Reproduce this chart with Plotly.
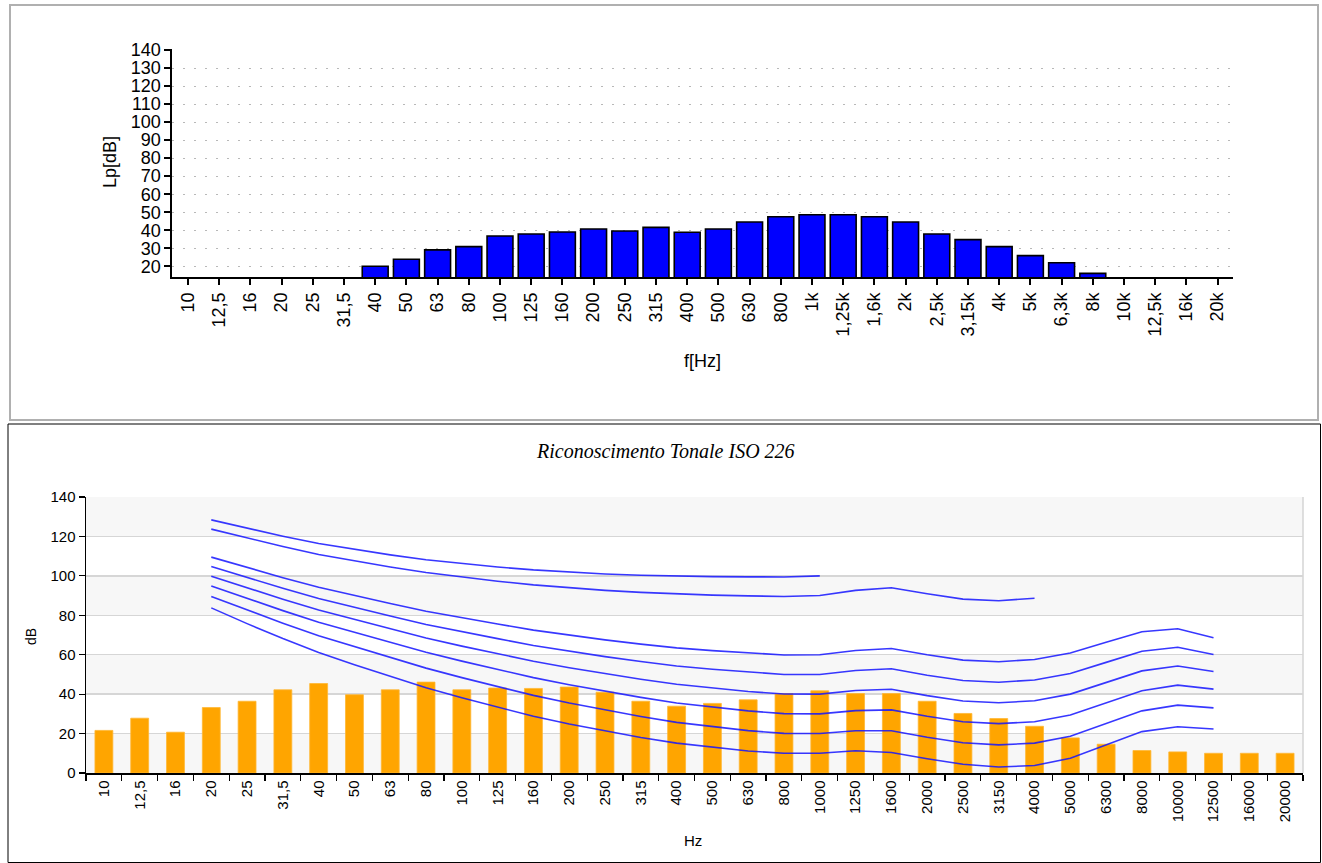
import plotly.graph_objects as go

# ---------------- data: top chart (third-octave spectrum) ----------------
top_labels = ["10", "12,5", "16", "20", "25", "31,5", "40", "50", "63", "80",
              "100", "125", "160", "200", "250", "315", "400", "500", "630", "800",
              "1k", "1,25k", "1,6k", "2k", "2,5k", "3,15k", "4k", "5k", "6,3k", "8k",
              "10k", "12,5k", "16k", "20k"]
top_levels = [None, None, None, None, None, None, 20.0, 23.9, 29.1, 30.9,
              36.8, 37.9, 39.0, 40.7, 39.6, 41.6, 38.9, 40.7, 44.6, 47.5,
              48.6, 48.6, 47.5, 44.6, 37.9, 34.8, 30.9, 25.9, 22.0, 16.1,
              None, None, None, None]
top_yticks = [20, 30, 40, 50, 60, 70, 80, 90, 100, 110, 120, 130, 140]

# ---------------- data: bottom chart (tonal recognition ISO 226) ----------------
low_labels = ["10", "12,5", "16", "20", "25", "31,5", "40", "50", "63", "80",
              "100", "125", "160", "200", "250", "315", "400", "500", "630", "800",
              "1000", "1250", "1600", "2000", "2500", "3150", "4000", "5000", "6300", "8000",
              "10000", "12500", "16000", "20000"]
low_levels = [21.6, 27.8, 20.7, 33.2, 36.4, 42.2, 45.4, 39.7, 42.2, 46.1,
              42.2, 43.1, 42.9, 43.6, 41.0, 36.4, 33.9, 35.3, 37.1, 40.3,
              41.7, 40.3, 40.3, 36.4, 30.2, 27.6, 23.7, 17.8, 14.6, 11.4,
              10.7, 10.0, 10.0, 10.0]
low_yticks = [0, 20, 40, 60, 80, 100, 120, 140]

contour_x = ["20", "25", "31,5", "40", "50", "63", "80", "100", "125", "160",
             "200", "250", "315", "400", "500", "630", "800", "1000", "1250", "1600",
             "2000", "2500", "3150", "4000", "5000", "6300", "8000", "10000", "12500"]
phon10 = [83.75, 75.76, 68.21, 61.14, 54.96, 49.01, 43.24, 38.13, 33.48, 28.77,
          24.84, 21.33, 18.05, 15.14, 12.98, 11.18, 9.99, 10.0, 11.26, 10.43,
          7.27, 4.45, 3.04, 3.80, 7.46, 14.35, 20.99, 23.43, 22.33]
phon20 = [89.58, 82.65, 75.98, 69.62, 64.02, 58.55, 53.19, 48.38, 43.94, 39.37,
          35.51, 31.99, 28.69, 25.67, 23.43, 21.48, 20.10, 20.0, 21.46, 21.40,
          18.15, 15.38, 14.26, 15.14, 18.64, 25.02, 31.52, 34.43, 33.04]
phon30 = [94.85, 88.52, 82.36, 76.45, 71.26, 66.20, 61.22, 56.76, 52.64, 48.38,
          44.78, 41.47, 38.36, 35.50, 33.37, 31.49, 30.11, 30.0, 31.65, 32.04,
          28.76, 26.02, 25.05, 26.02, 29.42, 35.48, 41.75, 44.57, 42.55]
phon40 = [99.85, 93.94, 88.17, 82.63, 77.78, 73.08, 68.48, 64.37, 60.59, 56.70,
          53.41, 50.40, 47.58, 44.98, 43.05, 41.34, 40.06, 40.01, 41.82, 42.51,
          39.23, 36.51, 35.61, 36.65, 40.01, 45.83, 51.80, 54.28, 51.49]
phon50 = [104.72, 99.14, 93.69, 88.49, 83.96, 79.61, 75.36, 71.61, 68.17, 64.68,
          61.72, 59.04, 56.55, 54.26, 52.59, 51.10, 49.98, 50.0, 51.99, 52.87,
          49.62, 46.91, 46.05, 47.15, 50.48, 56.11, 61.76, 63.78, 60.13]
phon60 = [109.51, 104.23, 99.08, 94.18, 89.96, 85.94, 82.05, 78.65, 75.56, 72.47,
          69.86, 67.53, 65.39, 63.45, 62.05, 60.82, 59.89, 60.0, 62.15, 63.19,
          59.96, 57.26, 56.42, 57.57, 60.89, 66.36, 71.66, 73.15, 68.63]
phon90 = [123.71, 119.20, 114.88, 110.87, 107.55, 104.51, 101.67, 99.33, 97.29, 95.43,
          93.89, 92.65, 91.60, 90.76, 90.24, 89.84, 89.55, 90.0, 92.65, 94.00,
          90.89, 88.18, 87.38, 88.66]
phon100 = [128.41, 124.15, 120.11, 116.38, 113.35, 110.65, 108.16, 106.17, 104.48, 103.03,
           101.85, 100.97, 100.30, 99.83, 99.62, 99.50, 99.44, 100.0]
contours = [phon100, phon90, phon60, phon50, phon40, phon30, phon20, phon10]

W, H = 1322, 863


def px(x):
    return x / W


def py(y):
    return 1 - y / H


fig = go.Figure()

fig.add_trace(go.Bar(
    x=top_labels, y=top_levels, xaxis="x", yaxis="y", width=0.83,
    marker=dict(color="#0000ff", line=dict(color="#000000", width=1.6)),
    showlegend=False, hoverinfo="skip"))

fig.add_trace(go.Bar(
    x=low_labels, y=low_levels, xaxis="x2", yaxis="y2", width=0.5,
    marker=dict(color="#ffa500", line=dict(color="#ffb733", width=0.8)),
    showlegend=False, hoverinfo="skip"))

for c in contours:
    fig.add_trace(go.Scatter(
        x=contour_x[:len(c)], y=c, xaxis="x2", yaxis="y2", mode="lines",
        line=dict(color="rgba(20,20,255,0.85)", width=1.6),
        showlegend=False, hoverinfo="skip"))

shapes = []
shapes.append(dict(type="rect", xref="paper", yref="paper",
                   x0=px(10), x1=px(1318), y0=py(420), y1=py(5),
                   line=dict(color="#b0b0b0", width=2), layer="below"))
shapes.append(dict(type="rect", xref="paper", yref="paper",
                   x0=px(8), x1=px(1320.5), y0=py(862.5), y1=py(424),
                   line=dict(color="#000000", width=1), layer="below"))
for lo in [0, 40, 80, 120]:
    shapes.append(dict(type="rect", xref="x2 domain", yref="y2",
                       x0=0, x1=1, y0=lo, y1=lo + 20,
                       fillcolor="#f7f7f7", line=dict(width=0), layer="below"))
shapes.append(dict(type="line", xref="x2 domain", yref="y2",
                   x0=1, x1=1, y0=0, y1=140,
                   line=dict(color="#d4d4d4", width=1.5), layer="below"))

common = dict(xref="paper", yref="paper", showarrow=False,
              xanchor="center", yanchor="middle")
ann = []
ann.append(dict(text="Lp[dB]", x=px(110), y=py(162), textangle=-90,
                font=dict(family="Liberation Sans, Arial", size=18, color="#000000"), **common))
ann.append(dict(text="f[Hz]", x=px(702), y=py(361),
                font=dict(family="Liberation Sans, Arial", size=18, color="#000000"), **common))
ann.append(dict(text="<i>Riconoscimento Tonale ISO 226</i>", x=px(665), y=py(451),
                font=dict(family="Liberation Serif, Times New Roman", size=20, color="#000000"),
                **common))
ann.append(dict(text="dB", x=px(31), y=py(637), textangle=-90,
                font=dict(family="Liberation Sans, Arial", size=14, color="#000000"), **common))
ann.append(dict(text="Hz", x=px(693), y=py(840),
                font=dict(family="Liberation Sans, Arial", size=15, color="#000000"), **common))

fig.update_layout(
    width=W, height=H, margin=dict(l=0, r=0, t=0, b=0, autoexpand=False),
    paper_bgcolor="#ffffff", plot_bgcolor="rgba(0,0,0,0)",
    showlegend=False, bargap=0,
    shapes=shapes, annotations=ann,
    xaxis=dict(domain=[px(172.4), px(1233.2)], anchor="y", type="category",
               categoryorder="array", categoryarray=top_labels, automargin=False,
               showline=True, linecolor="#000000", linewidth=2,
               ticks="outside", ticklen=6, tickwidth=2, tickcolor="#000000",
               tickangle=-90, showgrid=False,
               tickfont=dict(family="Liberation Sans, Arial", size=18, color="#000000")),
    yaxis=dict(domain=[py(277.3), py(49.1)], anchor="x", range=[13.9, 140.5],
               tickvals=top_yticks, showgrid=True, gridcolor="#b8b8b8", automargin=False,
               griddash="2px,9px", gridwidth=1, zeroline=False,
               showline=True, linecolor="#000000", linewidth=2,
               ticks="outside", ticklen=6, tickwidth=2, tickcolor="#000000",
               tickfont=dict(family="Liberation Sans, Arial", size=18, color="#000000")),
    xaxis2=dict(domain=[px(86), px(1303)], anchor="y2", type="category",
                categoryorder="array", categoryarray=low_labels, automargin=False,
                showline=True, linecolor="#000000", linewidth=1.5,
                ticks="outside", ticklen=6, tickwidth=1.2, tickcolor="#000000",
                tickson="boundaries", tickangle=-90, showgrid=False,
                tickfont=dict(family="Liberation Sans, Arial", size=15, color="#000000")),
    yaxis2=dict(domain=[py(773), py(497)], anchor="x2", range=[0, 140],
                tickvals=low_yticks, showgrid=True, gridcolor="#d6d6d6", gridwidth=1.5,
                automargin=False,
                zeroline=False, showline=True, linecolor="#000000", linewidth=1.5,
                ticks="outside", ticklen=6, tickwidth=1.2, tickcolor="#000000",
                tickfont=dict(family="Liberation Sans, Arial", size=15, color="#000000")),
)

fig.write_html("out.html", config={"displayModeBar": False, "staticPlot": True},
               post_script="document.body.style.margin='0px';document.body.style.overflow='hidden';")
